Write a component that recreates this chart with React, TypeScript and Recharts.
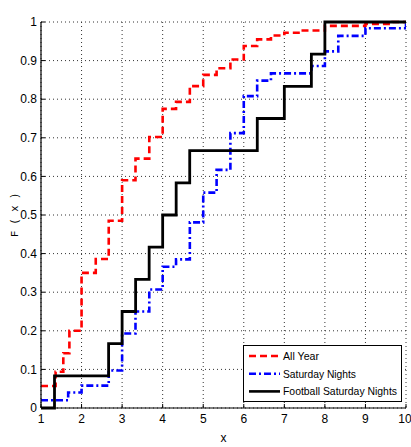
import React from 'react';
import { LineChart, Line, XAxis, YAxis, CartesianGrid } from 'recharts';

const xTicks = [1, 2, 3, 4, 5, 6, 7, 8, 9, 10];
const yTicks = [0, 0.1, 0.2, 0.3, 0.4, 0.5, 0.6, 0.7, 0.8, 0.9, 1];
const yTickLabels = ['0', '0.1', '0.2', '0.3', '0.4', '0.5', '0.6', '0.7', '0.8', '0.9', '1'];

const seriesNames = ['All Year', 'Saturday Nights', 'Football Saturday Nights'];

const allYearX = [1, 1.36, 1.55, 1.7, 2, 2.35, 2.67, 3, 3.33, 3.67, 4, 4.33, 4.67, 5, 5.33, 5.67, 6, 6.33, 6.67, 7, 7.4, 8, 9, 9.67, 10];
const allYearF = [0.057, 0.094, 0.142, 0.2, 0.35, 0.386, 0.485, 0.59, 0.646, 0.702, 0.775, 0.793, 0.834, 0.863, 0.88, 0.903, 0.938, 0.955, 0.965, 0.972, 0.978, 0.99, 0.995, 1, 1];

const saturdayX = [1, 1.67, 2, 2.67, 3, 3.33, 3.67, 4, 4.33, 4.67, 5, 5.33, 5.67, 6, 6.33, 6.67, 7.67, 8, 8.33, 9, 10];
const saturdayF = [0.02, 0.04, 0.058, 0.097, 0.193, 0.25, 0.307, 0.366, 0.385, 0.481, 0.558, 0.617, 0.712, 0.808, 0.848, 0.867, 0.886, 0.924, 0.964, 0.984, 1];

const footballX = [1, 1.333, 2.667, 3, 3.333, 3.667, 4, 4.333, 4.667, 6.333, 7, 7.667, 8, 10];
const footballF = [0, 0.0833, 0.1667, 0.25, 0.3333, 0.4167, 0.5, 0.5833, 0.6667, 0.75, 0.8333, 0.9167, 1, 1];

const zip = (xs: number[], ys: number[]) => xs.map((x, i) => ({ x, y: ys[i] }));

const allYearData = zip(allYearX, allYearF);
const saturdayData = zip(saturdayX, saturdayF);
const footballData = zip(footballX, footballF);

const styles = [
  { color: '#ff0000', dash: '7 4' as string | undefined, textWidth: 36 },
  { color: '#0000ff', dash: '7 3 2 3' as string | undefined, textWidth: 73 },
  { color: '#000000', dash: undefined as string | undefined, textWidth: 114 },
];

const sans = "'Liberation Sans', Arial, sans-serif";
const mono = "'Liberation Mono', 'DejaVu Sans Mono', monospace";

const LegendBox = () => (
  <svg width={168} height={58} style={{ display: 'block', overflow: 'visible' }}>
    <rect x={0.5} y={0.5} width={158} height={56} fill="#fff" stroke="#000" strokeWidth={1} />
    {seriesNames.map((name, i) => {
      const st = styles[i];
      const cy = 11 + i * 17.7;
      return (
        <g key={name}>
          <line x1={6} x2={37} y1={cy} y2={cy} stroke={st.color} strokeWidth={2.6} strokeDasharray={st.dash} />
          <text
            x={40}
            y={cy}
            dy="0.36em"
            fontFamily={sans}
            fontSize={11}
            fill="#000"
            textLength={st.textWidth}
            lengthAdjust="spacingAndGlyphs"
          >
            {name}
          </text>
        </g>
      );
    })}
  </svg>
);

export default function App() {
  return (
    <div style={{ position: 'absolute', left: 0, top: 0, width: 411, height: 447, background: '#fff' }}>
      <LineChart width={411} height={447} margin={{ top: 22, right: 5, bottom: 0, left: 11 }}>
        <CartesianGrid stroke="#333" strokeDasharray="1 3" strokeWidth={1} />
        <XAxis
          type="number"
          dataKey="x"
          domain={[1, 10]}
          ticks={xTicks}
          allowDataOverflow
          height={39}
          tickSize={-4}
          tickMargin={10}
          axisLine={{ stroke: '#000', strokeWidth: 1.2 }}
          tickLine={{ stroke: '#000' }}
          tick={{ fill: '#000', fontSize: 12, fontFamily: sans }}
          label={{ value: 'x', position: 'insideBottom', offset: 5, fill: '#000', fontSize: 12, fontFamily: sans }}
        />
        <XAxis
          xAxisId="top"
          orientation="top"
          type="number"
          dataKey="x"
          domain={[1, 10]}
          ticks={xTicks}
          height={0}
          tickSize={-4}
          tick={false}
          axisLine={{ stroke: '#000', strokeWidth: 1.2 }}
          tickLine={{ stroke: '#000' }}
          label={{ value: 'Empirical data Frequencies', position: 'top', offset: 9, fill: '#222', fontSize: 10.5, fontFamily: mono }}
        />
        <YAxis
          type="number"
          domain={[0, 1]}
          ticks={yTicks}
          width={30}
          tickSize={-4}
          tickMargin={8}
          axisLine={{ stroke: '#000', strokeWidth: 1.2 }}
          tickLine={{ stroke: '#000' }}
          tick={{ fill: '#000', fontSize: 12, fontFamily: sans }}
          tickFormatter={(v: number, i: number) => yTickLabels[i] ?? String(v)}
          label={{ value: 'F ( x )', angle: -90, position: 'insideLeft', offset: 3, fill: '#000', fontSize: 10.5, fontFamily: mono, style: { textAnchor: 'middle' } }}
        />
        <YAxis
          yAxisId="right"
          orientation="right"
          type="number"
          domain={[0, 1]}
          ticks={yTicks}
          width={0}
          tickSize={-4}
          tick={false}
          axisLine={{ stroke: '#000', strokeWidth: 1.2 }}
          tickLine={{ stroke: '#000' }}
        />
        <Line
          data={allYearData}
          dataKey="y"
          name={seriesNames[0]}
          type="stepAfter"
          stroke={styles[0].color}
          strokeWidth={2.6}
          strokeDasharray={styles[0].dash}
          dot={false}
          activeDot={false}
          isAnimationActive={false}
        />
        <Line
          data={saturdayData}
          dataKey="y"
          name={seriesNames[1]}
          type="stepAfter"
          stroke={styles[1].color}
          strokeWidth={2.6}
          strokeDasharray={styles[1].dash}
          dot={false}
          activeDot={false}
          isAnimationActive={false}
        />
        <Line
          data={footballData}
          dataKey="y"
          name={seriesNames[2]}
          type="stepAfter"
          stroke={styles[2].color}
          strokeWidth={2.8}
          dot={false}
          activeDot={false}
          isAnimationActive={false}
        />
      </LineChart>
      <div style={{ position: 'absolute', left: 243, top: 345 }}>
        <LegendBox />
      </div>
    </div>
  );
}
